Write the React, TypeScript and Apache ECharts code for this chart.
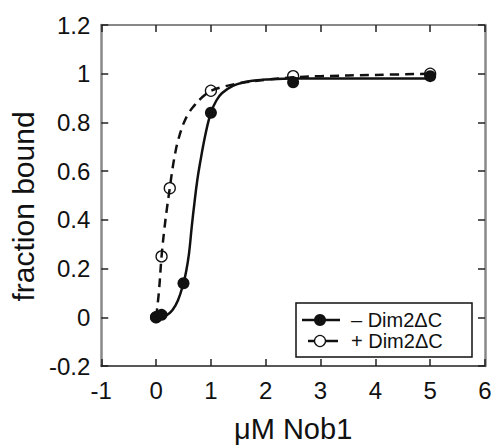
import React, { useEffect, useRef } from "react";
import * as echarts from "echarts";

// Measured points: - Dim2ΔC (filled) and + Dim2ΔC (open)
const filledX = [0, 0.1, 0.5, 1, 2.5, 5];
const filledY = [0, 0.01, 0.14, 0.84, 0.965, 0.99];
const openX = [0, 0.1, 0.25, 1, 2.5, 5];
const openY = [0, 0.25, 0.53, 0.93, 0.99, 1.0];

// Fitted curves
const solidFitX = [0, 0.1, 0.2, 0.3, 0.4, 0.5, 0.55, 0.6, 0.65, 0.7, 0.75, 0.8, 0.9, 1.0, 1.1, 1.2, 1.4, 1.6, 1.8, 2.0, 2.5, 3, 4, 5];
const solidFitY = [0, 0.003, 0.01, 0.03, 0.07, 0.14, 0.19, 0.26, 0.37, 0.47, 0.56, 0.63, 0.75, 0.84, 0.89, 0.92, 0.95, 0.965, 0.972, 0.976, 0.98, 0.98, 0.98, 0.98];
const dashFitX = [0, 0.05, 0.1, 0.15, 0.2, 0.25, 0.3, 0.35, 0.4, 0.5, 0.6, 0.7, 0.8, 0.9, 1.0, 1.2, 1.5, 2, 2.5, 3, 4, 5];
const dashFitY = [0, 0.1, 0.25, 0.36, 0.45, 0.53, 0.61, 0.675, 0.725, 0.795, 0.84, 0.87, 0.895, 0.915, 0.93, 0.945, 0.96, 0.975, 0.985, 0.99, 0.995, 1.0];

const legendLabels = ["\u2013 Dim2\u0394C", "+ Dim2\u0394C"];
const xAxisName = "\u03bcM Nob1";
const yAxisName = "fraction bound";

const zip = (xs: number[], ys: number[]) => xs.map((x, i) => [x, ys[i]]);

const FONT = "Liberation Sans, Arial, sans-serif";

export default function App() {
  const ref = useRef<HTMLDivElement>(null);
  useEffect(() => {
    if (!ref.current) return;
    const chart = echarts.init(ref.current, undefined, { renderer: "svg" });
    const axisCommonX = {
      type: "value" as const,
      min: -1,
      max: 6,
      interval: 1,
      splitLine: { show: false },
    };
    const axisCommonY = {
      type: "value" as const,
      min: -0.2,
      max: 1.2,
      interval: 0.2,
      splitLine: { show: false },
    };
    const lx = 296, ly = 303, lw = 176, lh = 54;
    chart.setOption({
      animation: false,
      backgroundColor: "#fff",
      grid: { left: 99, right: 10, top: 25, bottom: 78, containLabel: false },
      xAxis: [
        {
          ...axisCommonX,
          position: "bottom",
          name: xAxisName,
          nameLocation: "middle",
          nameGap: 48,
          nameTextStyle: { fontFamily: FONT, fontSize: 29, color: "#111" },
          axisLine: { show: true, onZero: false, lineStyle: { color: "#222", width: 1.5 } },
          axisTick: { show: true, inside: true, length: 7, lineStyle: { color: "#222", width: 1.5 } },
          axisLabel: { fontFamily: FONT, fontSize: 24, color: "#111", margin: 12 },
        },
        {
          ...axisCommonX,
          position: "top",
          axisLine: { show: true, onZero: false, lineStyle: { color: "#888", width: 2 } },
          axisTick: { show: true, inside: true, length: 7, lineStyle: { color: "#222", width: 1.5 } },
          axisLabel: { show: false },
        },
      ],
      yAxis: [
        {
          ...axisCommonY,
          position: "left",
          name: yAxisName,
          nameLocation: "middle",
          nameGap: 62,
          nameTextStyle: { fontFamily: FONT, fontSize: 30, color: "#111", padding: [0, 22, 0, 0] },
          axisLine: { show: true, onZero: false, lineStyle: { color: "#888", width: 2.5 } },
          axisTick: { show: true, inside: true, length: 7, lineStyle: { color: "#222", width: 1.5 } },
          axisLabel: { fontFamily: FONT, fontSize: 24, color: "#111", margin: 11 },
        },
        {
          ...axisCommonY,
          position: "right",
          axisLine: { show: true, onZero: false, lineStyle: { color: "#888", width: 2.5 } },
          axisTick: { show: true, inside: true, length: 7, lineStyle: { color: "#222", width: 1.5 } },
          axisLabel: { show: false },
        },
      ],
      series: [
        {
          type: "line",
          data: zip(solidFitX, solidFitY),
          smooth: 0.4,
          showSymbol: false,
          lineStyle: { color: "#111", width: 2.5 },
          z: 2,
        },
        {
          type: "line",
          data: zip(dashFitX, dashFitY),
          smooth: 0.4,
          showSymbol: false,
          lineStyle: { color: "#111", width: 2.5, type: [9, 6] },
          z: 2,
        },
        {
          type: "scatter",
          data: zip(openX, openY),
          symbol: "circle",
          symbolSize: 11,
          itemStyle: { color: "rgba(255,255,255,0)", borderColor: "#111", borderWidth: 1.3, opacity: 1 },
          z: 3,
        },
        {
          type: "scatter",
          data: zip(filledX, filledY),
          symbol: "circle",
          symbolSize: 12,
          itemStyle: { color: "#111", opacity: 1 },
          z: 4,
        },
      ],
      graphic: [
        {
          type: "rect",
          shape: { x: lx, y: ly, width: lw, height: lh },
          style: { fill: "#fff", stroke: "#111", lineWidth: 1.5 },
          z: 10,
        },
        {
          type: "line",
          shape: { x1: 302, y1: 320, x2: 340, y2: 320 },
          style: { stroke: "#111", lineWidth: 2.5 },
          z: 11,
        },
        {
          type: "circle",
          shape: { cx: 320, cy: 320, r: 6 },
          style: { fill: "#111" },
          z: 12,
        },
        {
          type: "text",
          x: 351,
          y: 320,
          style: { text: legendLabels[0], fontFamily: FONT, fontSize: 20, fill: "#111", verticalAlign: "middle", align: "left" },
          z: 12,
        },
        {
          type: "line",
          shape: { x1: 308, y1: 341, x2: 315, y2: 341 },
          style: { stroke: "#111", lineWidth: 2.5 },
          z: 11,
        },
        {
          type: "line",
          shape: { x1: 326, y1: 341, x2: 338, y2: 341 },
          style: { stroke: "#111", lineWidth: 2.5 },
          z: 11,
        },
        {
          type: "circle",
          shape: { cx: 320, cy: 341, r: 5.5 },
          style: { fill: "#fff", stroke: "#111", lineWidth: 1.3 },
          z: 12,
        },
        {
          type: "text",
          x: 351,
          y: 341,
          style: { text: legendLabels[1], fontFamily: FONT, fontSize: 20, fill: "#111", verticalAlign: "middle", align: "left" },
          z: 12,
        },
      ],
    });
    return () => chart.dispose();
  }, []);
  return (
    <div
      ref={ref}
      style={{ position: "fixed", left: 0, top: 0, width: 495, height: 448, background: "#fff" }}
    />
  );
}
